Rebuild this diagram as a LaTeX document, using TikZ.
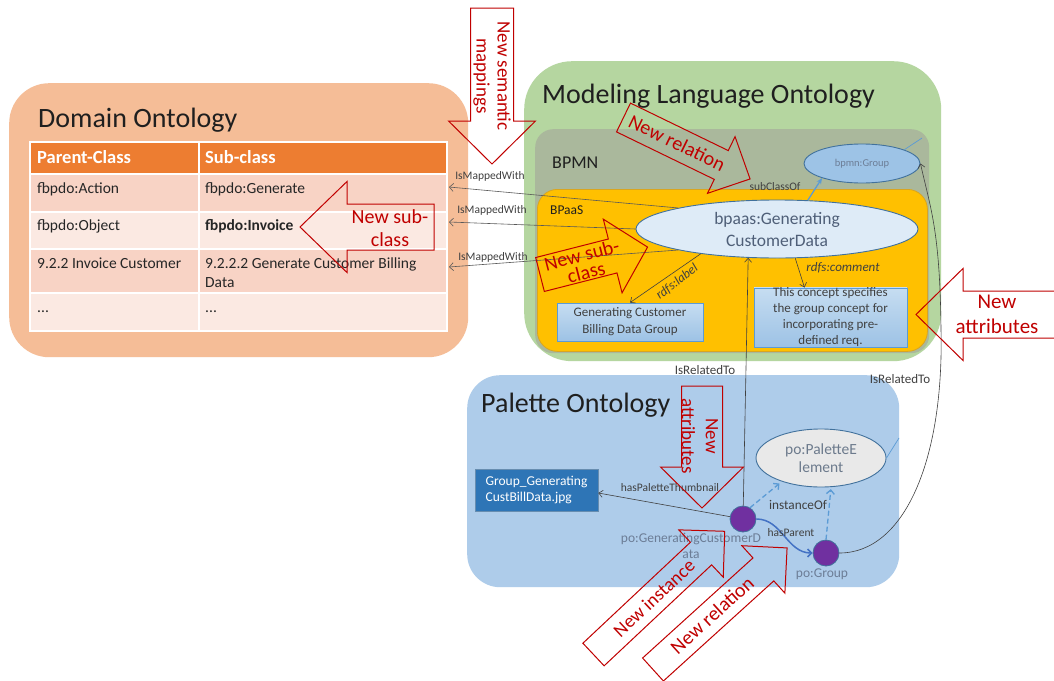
\documentclass[tikz,border=0pt]{standalone}
\usepackage{fontspec}
\setmainfont{Carlito}
\usetikzlibrary{arrows.meta,shapes.geometric}

\definecolor{domfill}{HTML}{F5BD97}
\definecolor{hdrfill}{HTML}{ED7D31}
\definecolor{rowA}{HTML}{F8D3C5}
\definecolor{rowB}{HTML}{FBE9E2}
\definecolor{mlofill}{HTML}{B5D6A0}
\definecolor{bpmnfill}{HTML}{AAB89C}
\definecolor{bpaasfill}{HTML}{FFC000}
\definecolor{bpaasline}{HTML}{D9A520}
\definecolor{palfill}{HTML}{AECCEA}
\definecolor{accent}{HTML}{5B9BD5}
\definecolor{edge}{HTML}{41719C}
\definecolor{paleblue}{HTML}{DEEBF7}
\definecolor{midblue}{HTML}{9DC3E6}
\definecolor{darkblue}{HTML}{2E75B6}
\definecolor{purplenode}{HTML}{7030A0}
\definecolor{calloutred}{HTML}{C00000}
\definecolor{slate}{HTML}{4F5F78}
\definecolor{softslate}{HTML}{6C7D96}
\definecolor{greytext}{HTML}{6C7A8C}
\definecolor{linkgray}{HTML}{404040}
\definecolor{mapgray}{HTML}{595959}
\definecolor{hparent}{HTML}{4472C4}
\definecolor{labtop}{HTML}{C6DDF1}
\definecolor{labbot}{HTML}{9DC2E5}
\definecolor{elgray}{HTML}{E9E9E9}

\newcommand\fsz[2]{\fontsize{#1pt}{#2pt}\selectfont}

% outlined block arrow: tail point, direction, shaft width, length, head width, head length
\newcommand\redarrow[6]{%
  \begin{scope}[shift={(#1)},rotate=#2]
    \draw[calloutline] (0,{-(#3)/2}) -- ({(#4)-(#6)},{-(#3)/2}) -- ({(#4)-(#6)},{-(#5)/2})
      -- (#4,0) -- ({(#4)-(#6)},{(#5)/2}) -- ({(#4)-(#6)},{(#3)/2}) -- (0,{(#3)/2}) -- cycle;
  \end{scope}}

\begin{document}
\begin{tikzpicture}[x=1pt,y=1pt,
  panel/.style={anchor=north west,inner sep=0pt,draw=none},
  cell/.style={draw=white,line width=1.5pt,anchor=north west,inner sep=0pt},
  tabhead/.style={inner sep=0pt,anchor=west,text=white,font=\fsz{18.5}{21}\bfseries},
  tabtext/.style={inner sep=0pt,anchor=west,text=black!85,font=\fsz{15.5}{19},align=left},
  title/.style={inner sep=0pt,anchor=base west,text=black!88,font=\fsz{28}{32}},
  lbl/.style={inner sep=0pt,text=linkgray,font=\fsz{11.5}{13}},
  link/.style={draw=linkgray,line width=0.6pt,-{Straight Barb[length=4pt,width=7pt]}},
  maplink/.style={draw=mapgray,line width=0.6pt,-{Straight Barb[length=4pt,width=8pt]}},
  sublink/.style={draw=accent,line width=1.3pt,-{Stealth[length=6pt,width=5pt]}},
  instlink/.style={draw=accent,line width=1.3pt,dash pattern=on 5pt off 3pt,-{Straight Barb[length=4pt,width=8pt]}},
  parentlink/.style={draw=hparent,line width=1.5pt,-{Straight Barb[length=4pt,width=8pt]}},
  stub/.style={draw=accent,line width=0.7pt},
  textbox/.style={rectangle,draw=accent,line width=0.8pt,top color=labtop,bottom color=labbot,
    align=center,text=black!75,inner sep=0pt},
  dot/.style={circle,fill=purplenode,draw=edge,line width=0.8pt,minimum size=26pt,inner sep=0pt},
  calloutline/.style={draw=calloutred,line width=1pt},
  callouttext/.style={text=calloutred,font=\fsz{20}{23},align=center,inner sep=0pt}]

\useasboundingbox (0,0) rectangle (1054,-680);
\fill[white] (0,0) rectangle (1054,-680);

% ---------- Domain ontology ----------
\node[panel,fill=domfill,rounded corners=40pt,minimum width=459pt,minimum height=274pt] (dom) at (9,-83) {};
\node[title] (domtitle) at (38,-127) {Domain Ontology};

\node[cell,fill=hdrfill,minimum width=169pt,minimum height=32pt] (h1) at (29,-141) {};
\node[cell,fill=hdrfill,minimum width=248pt,minimum height=32pt] (h2) at (198,-141) {};
\node[cell,fill=rowA,minimum width=169pt,minimum height=38pt] (r1a) at (29,-173) {};
\node[cell,fill=rowA,minimum width=248pt,minimum height=38pt] (r1b) at (198,-173) {};
\node[cell,fill=rowB,minimum width=169pt,minimum height=37pt] (r2a) at (29,-211) {};
\node[cell,fill=rowB,minimum width=248pt,minimum height=37pt] (r2b) at (198,-211) {};
\node[cell,fill=rowA,minimum width=169pt,minimum height=44pt] (r3a) at (29,-248) {};
\node[cell,fill=rowA,minimum width=248pt,minimum height=44pt] (r3b) at (198,-248) {};
\node[cell,fill=rowB,minimum width=169pt,minimum height=38pt] (r4a) at (29,-292) {};
\node[cell,fill=rowB,minimum width=248pt,minimum height=38pt] (r4b) at (198,-292) {};

\node[tabhead] (th1) at (37,-157) {Parent-Class};
\node[tabhead] (th2) at (205,-157) {Sub-class};
\node[tabtext] (t11) at (37,-189) {fbpdo:Action};
\node[tabtext] (t12) at (205,-189) {fbpdo:Generate};
\node[tabtext] (t21) at (37,-226) {fbpdo:Object};
\node[tabtext] (t22) at (205,-226) {\bfseries fbpdo:Invoice};
\node[tabtext] (t31) at (37,-263) {9.2.2 Invoice Customer};
\node[tabtext] (t32) at (205,-272.5) {9.2.2.2 Generate Customer Billing\\Data};
\node[tabtext,anchor=base west] (t41) at (37,-312) {...};
\node[tabtext,anchor=base west] (t42) at (205,-312) {...};

% ---------- Modeling language ontology ----------
\node[panel,fill=mlofill,rounded corners=48pt,minimum width=417pt,minimum height=300pt] (mlo) at (524,-61) {};
\node[title] (mlotitle) at (542,-103) {Modeling Language Ontology};
\node[panel,fill=bpmnfill,rounded corners=18pt,minimum width=394pt,minimum height=224pt] (bpmnbox) at (535,-129) {};
\node[title,font=\fsz{18}{20}] (bpmntitle) at (552,-168) {BPMN};
\node[panel,fill=bpaasfill,draw=bpaasline,line width=0.8pt,rounded corners=20pt,minimum width=390pt,minimum height=162pt] (bpaasbox) at (537,-189) {};
\node[title,font=\fsz{13.5}{16}] (bpaastitle) at (550,-214) {BPaaS};

\node[ellipse,fill=midblue,draw=edge,line width=0.9pt,minimum width=116pt,minimum height=39pt,inner sep=0pt,
  text=softslate,font=\fsz{10.5}{12}] (bg) at (862,-163.5) {bpmn:Group};
\node[ellipse,fill=paleblue,draw=edge,line width=0.9pt,minimum width=282pt,minimum height=58pt,inner sep=0pt,
  align=center,text=slate,font=\fsz{17.5}{22}] (bpaas) at (777,-229) {bpaas:Generating\\CustomerData};
\node[textbox,minimum width=146pt,minimum height=38pt,font=\fsz{13}{17}] (lab) at (630,-322) {Generating Customer\\Billing Data Group};
\node[textbox,minimum width=153pt,minimum height=59pt,font=\fsz{13}{16}] (com) at (830.5,-317.5) {This concept specifies\\the group concept for\\incorporating pre-\\defined req.};

% ---------- Palette ontology ----------
\node[panel,fill=palfill,rounded corners=33pt,minimum width=432pt,minimum height=212pt] (palbox) at (467,-375) {};
\node[title] (paltitle) at (481,-412) {Palette Ontology};

\node[rectangle,fill=darkblue,draw=edge!80,line width=0.6pt,minimum width=123pt,minimum height=42pt,inner sep=0pt,
  align=left,text=white,font=\fsz{13.5}{16}] (thumb) at (536.5,-490) {Group\_Generating\\CustBillData.jpg};
\node[ellipse,fill=elgray,draw=edge,line width=0.9pt,minimum width=130pt,minimum height=58pt,inner sep=0pt,
  align=center,text=greytext,font=\fsz{15.5}{18}] (pal) at (821,-458) {po:PaletteE\\lement};
\node[dot] (pgcd) at (743,-519) {};
\node[dot] (pg) at (826,-553) {};
\node[inner sep=0pt,align=center,text=softslate,font=\fsz{13.5}{16}] (pgcdlbl) at (691,-546) {po:GeneratingCustomerD\\ata};
\node[inner sep=0pt,text=softslate,font=\fsz{13.5}{16}] (pglbl) at (822,-574) {po:Group};

% ---------- connectors ----------
\coordinate (m1) at (449,-187);
\coordinate (m2) at (449,-222);
\coordinate (m3) at (449,-267);
\draw[maplink] (bpaas.168) -- (m1);
\draw[maplink] (bpaas.west) -- (m2);
\draw[maplink] (bpaas.192) -- (m3);
\node[lbl] (lmap1) at (490,-176) {IsMappedWith};
\node[lbl] (lmap2) at (492,-210) {IsMappedWith};
\node[lbl] (lmap3) at (493,-257) {IsMappedWith};

\draw[sublink] (bpaas.43) -- (bg.200);
\node[lbl] (lsub) at (775,-187) {subClassOf};
\coordinate (bgtail) at (922,-138);
\draw[stub] (bg.18) -- (bgtail);

\draw[link] (bpaas.198) -- (lab.north);
\node[lbl,font=\fsz{13}{15}\itshape,rotate=37.6] (lrl) at (677,-282) {rdfs:label};
\draw[link] (bpaas.302) -- ([xshift=-26pt]com.north);
\node[lbl,font=\fsz{13}{15}\itshape] (lrc) at (843,-268) {rdfs:comment};

\draw[link] (pgcd) -- (bpaas.225);
\node[lbl,font=\fsz{13}{15}] (lrel1) at (705,-370) {IsRelatedTo};

\coordinate (rc) at (941,-330);
\draw[link] (pg.east) .. controls +(65,0) and +(3,-130) .. (rc) .. controls +(-1,100) and +(10,-45) .. (bg.east);
\node[lbl,font=\fsz{13}{15}] (lrel2) at (900,-379) {IsRelatedTo};

\draw[link] (pgcd) -- ([yshift=-3pt]thumb.east);
\node[lbl] (lthumb) at (670,-488) {hasPaletteThumbnail};

\draw[instlink,shorten >=3pt] (pgcd.58) -- (pal.211);
\draw[instlink,shorten >=2pt] (pg.north) -- (pal.289);
\node[lbl,font=\fsz{13.3}{15}] (linst) at (798,-505) {instanceOf};
\coordinate (paltail) at (899,-438);
\draw[stub] (pal.east) -- (paltail);

\draw[parentlink] (pgcd.east) to[out=0,in=180] (pg.west);
\node[lbl] (lpar) at (791,-533) {hasParent};

% ---------- change callouts ----------
\redarrow{492,-8}{-90}{43}{156}{87}{43}
\redarrow{434,-227}{180}{46}{134}{91}{47}
\redarrow{623.5,-117.5}{-25.9}{32}{140.7}{63}{32}
\redarrow{540,-274.5}{14.3}{35}{111}{76}{36}
\redarrow{1062,-314.5}{180}{47}{146}{92}{47}
\redarrow{702,-386}{-90}{41}{122}{83}{41}
\redarrow{593.5,-654.5}{43.2}{31}{180}{65}{32.5}
\redarrow{653,-669.5}{42.2}{31}{181}{64}{32}

\node[callouttext,rotate=-90,font=\fsz{19}{21}] (tnsm) at (492,-76) {New semantic\\mappings};
\node[callouttext] (tdsub) at (390,-228.5) {New sub-\\class};
\node[callouttext,rotate=-26] (trel1) at (677,-143) {New relation};
\node[callouttext,rotate=14.5,font=\fsz{20}{18}] (tbsub) at (584,-263.5) {New sub-\\class};
\node[callouttext,font=\fsz{21}{25}] (tatt1) at (997,-314.5) {New\\attributes};
\node[callouttext,rotate=-90,font=\fsz{19}{24}] (tatt2) at (700,-436) {New\\attributes};
\node[callouttext,rotate=43.2,font=\fsz{19}{21}] (tinst) at (654,-598) {New instance};
\node[callouttext,rotate=42.2] (trel2) at (712,-615) {New relation};
\end{tikzpicture}
\end{document}
